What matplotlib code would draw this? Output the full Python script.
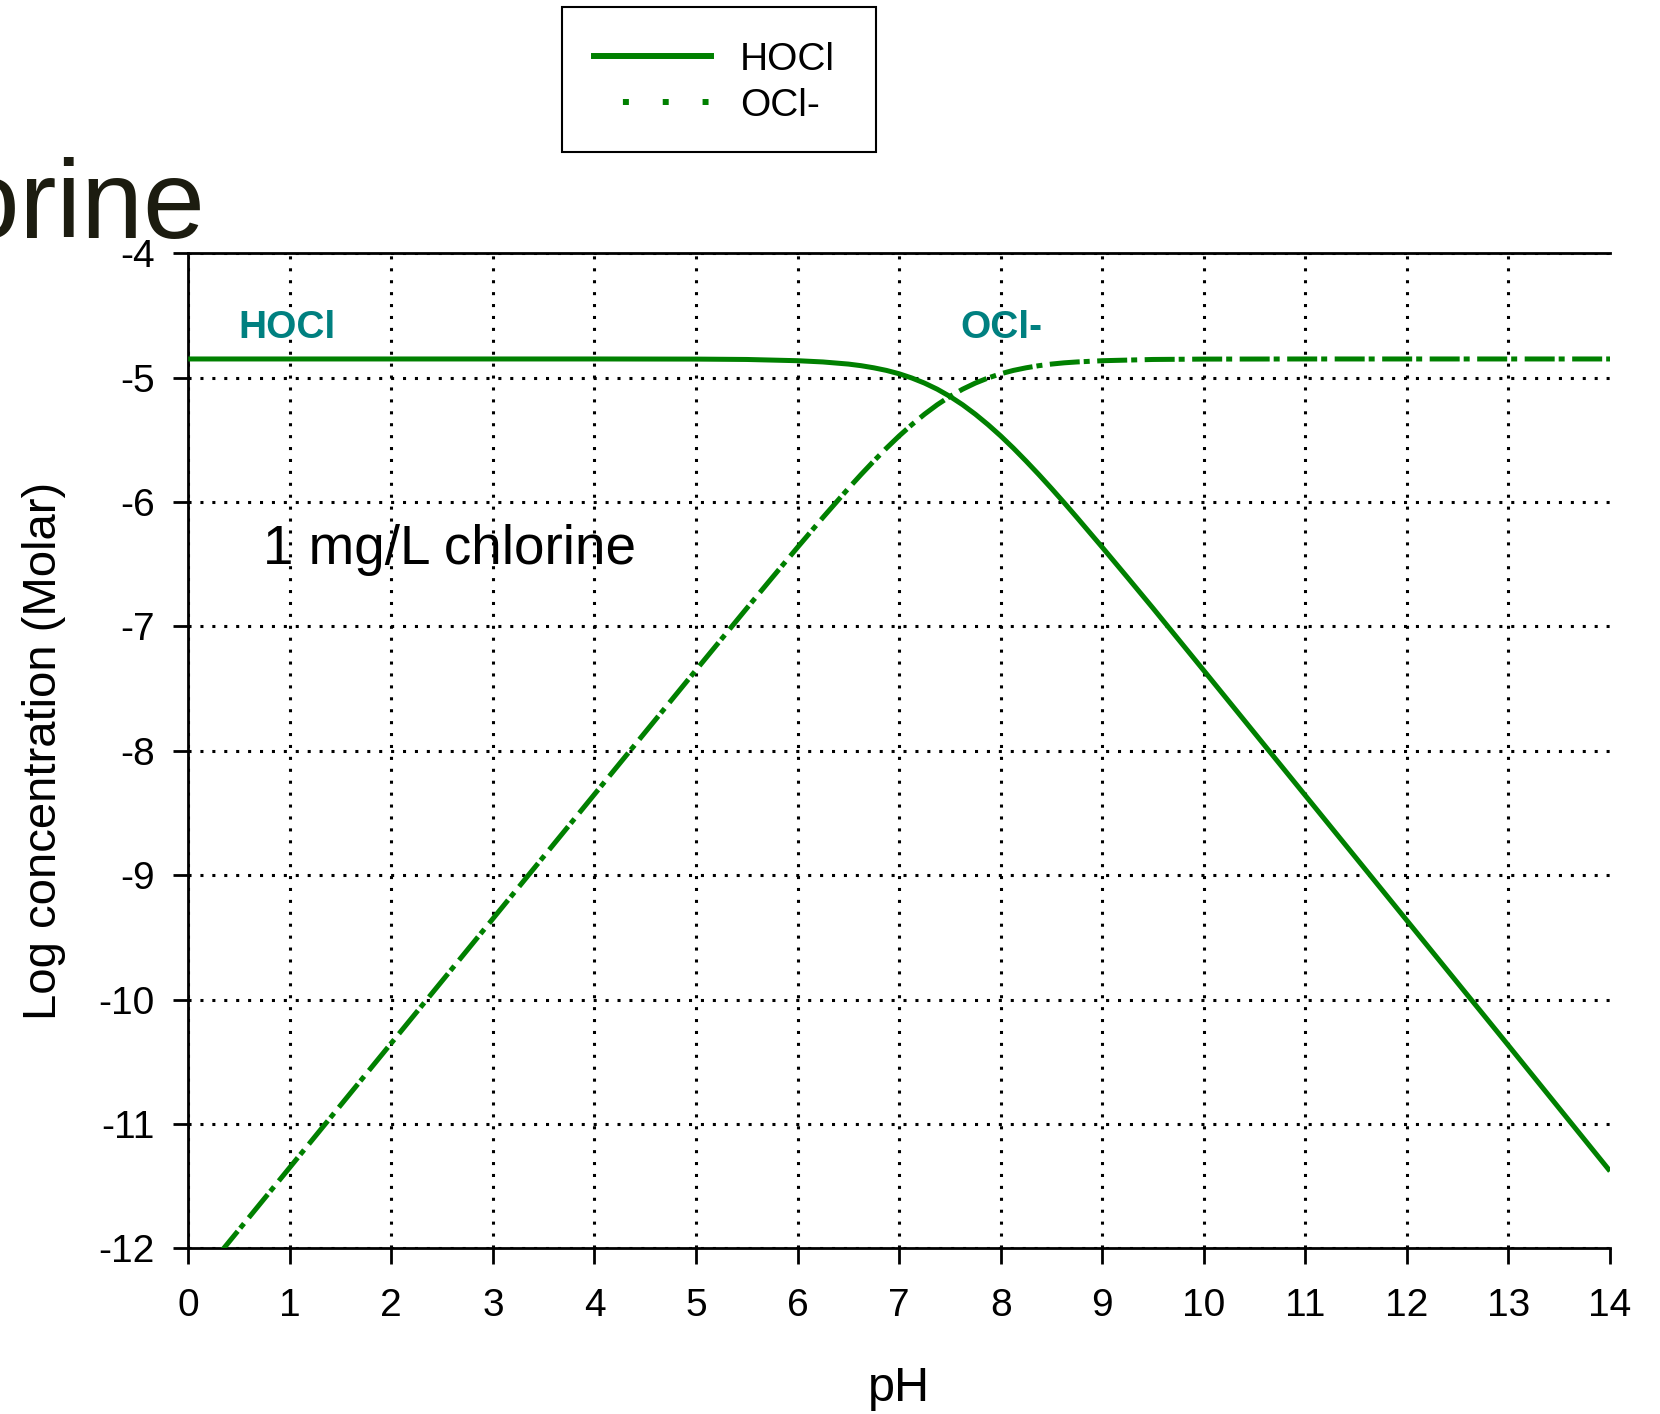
import matplotlib
matplotlib.use('Agg')
import matplotlib.pyplot as plt
from matplotlib.lines import Line2D
from matplotlib.patches import Rectangle

plt.rcParams['font.family'] = ['Liberation Sans', 'DejaVu Sans']
plt.rcParams['axes.unicode_minus'] = False

# values
ph_hocl = [0, 1, 2, 3, 4, 5, 5.5, 6, 6.25, 6.5, 6.625, 6.75, 6.875, 7, 7.125,
           7.25, 7.375, 7.5, 7.625, 7.75, 7.875, 8, 8.125, 8.25, 8.375, 8.5,
           8.625, 8.75, 9, 9.25, 9.5, 10, 11, 12, 13, 14]
log_hocl = [-4.85, -4.85, -4.85, -4.85, -4.85, -4.851, -4.854, -4.864, -4.874,
            -4.891, -4.904, -4.921, -4.942, -4.969, -5.003, -5.044, -5.093,
            -5.151, -5.218, -5.294, -5.378, -5.469, -5.567, -5.671, -5.779,
            -5.891, -6.006, -6.124, -6.364, -6.608, -6.854, -7.355, -8.36,
            -9.365, -10.37, -11.38]

ph_ocl = [0.3, 1, 2, 3, 4, 5, 5.5, 5.75, 6, 6.25, 6.5, 6.625, 6.75, 6.875, 7,
          7.125, 7.25, 7.375, 7.5, 7.625, 7.75, 7.875, 8, 8.125, 8.25, 8.375,
          8.5, 8.625, 8.75, 9, 9.5, 10, 11, 12, 13, 14]
log_ocl = [-12.05, -11.35, -10.35, -9.35, -8.35, -7.351, -6.854, -6.608, -6.364,
           -6.124, -5.891, -5.779, -5.671, -5.567, -5.469, -5.378, -5.294,
           -5.218, -5.151, -5.093, -5.044, -5.003, -4.969, -4.942, -4.921,
           -4.904, -4.891, -4.881, -4.874, -4.864, -4.854, -4.851, -4.85,
           -4.85, -4.85, -4.85]

x_ticks = list(range(0, 15))
y_ticks = list(range(-12, -3))
series_names = ['HOCl', 'OCl-']

green = '#008000'
teal = '#008080'

fig = plt.figure(figsize=(16.6, 14.14), dpi=100)
ax = fig.add_axes([0.1134, 0.1172, 0.8565, 0.7037])

ax.plot(ph_hocl, log_hocl, color=green, lw=3.6, solid_capstyle='butt', zorder=3)
ax.plot(ph_ocl, log_ocl, color=green, lw=3.6, linestyle=(0, (6, 0.8, 1.2, 1.5)), zorder=3)

ax.set_xlim(0, 14)
ax.set_ylim(-12, -4)
ax.set_xticks(x_ticks)
ax.set_yticks(y_ticks)

# dotted grid
ax.grid(True, color='black', lw=2.2, linestyle=(0, (1, 2.9)))
ax.xaxis.get_gridlines()[-1].set_visible(False)
ax.set_axisbelow(True)

for side in ['left', 'bottom', 'top']:
    ax.spines[side].set_linewidth(2)
ax.spines['right'].set_visible(False)
ax.tick_params(axis='both', direction='out', width=2, labelsize=28)
ax.tick_params(axis='x', length=11.5, pad=17)
ax.tick_params(axis='y', length=11, pad=13)

ax.set_xlabel('pH', fontsize=35)
ax.set_ylabel('Log concentration (Molar)', fontsize=34)
ax.xaxis.set_label_coords(0.5, -0.118)
ax.yaxis.set_label_coords(-0.086, 0.5)

ax.text(0.49, -4.68, 'HOCl', color=teal, fontsize=28, fontweight='bold', va='baseline')
ax.text(7.6, -4.68, 'OCl-', color=teal, fontsize=28, fontweight='bold', va='baseline')
ax.text(0.735, -6.5, '1 mg/L chlorine', fontsize=39.5, va='baseline')

# big title partly out of the frame on the left
fig.text(0.1235, 0.8317, 'Chlorine', fontsize=80, color='#1c1c10', ha='right', va='baseline')

handles = [Line2D([], [], color=green, lw=4.3),
           Line2D([], [], color=green, lw=4.3, linestyle=(1.83, (1, 5.67)))]
leg = fig.legend(handles, series_names, loc='upper left',
                 bbox_to_anchor=(559 / 1660, 1 - 7 / 1414), borderaxespad=0,
                 fontsize=28, handlelength=3.0, handletextpad=0.75,
                 labelspacing=0.25, borderpad=0.9, frameon=False)
# square legend box
fig.patches.append(Rectangle((0.3386, 0.8925), 0.1892, 0.1025, transform=fig.transFigure,
                             fill=False, edgecolor='black', lw=1.5, figure=fig))

fig.savefig('out.png', dpi=100)
